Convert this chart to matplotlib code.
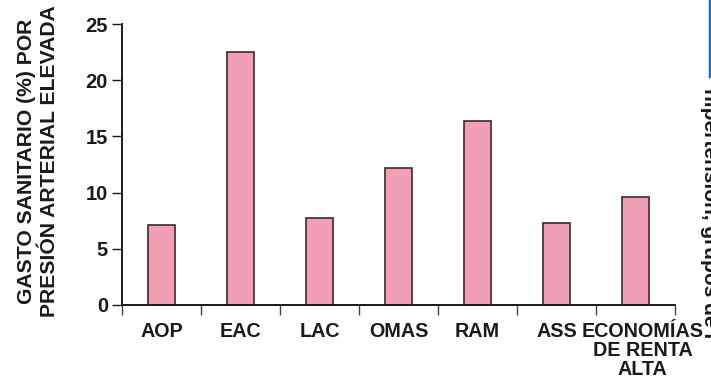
import matplotlib
matplotlib.use("Agg")
import matplotlib.pyplot as plt
import numpy as np
from matplotlib.ticker import FixedLocator, NullFormatter

# Health spending attributable to high blood pressure, by region
regions = ["AOP", "EAC", "LAC", "OMAS", "RAM", "ASS", "ECONOMÍAS\nDE RENTA\nALTA"]
spending_pct = [7.1, 22.5, 7.7, 12.2, 16.4, 7.3, 9.6]
y_ticks = [0, 5, 10, 15, 20, 25]

plt.rcParams["font.family"] = ["Liberation Sans", "DejaVu Sans"]
plt.rcParams["font.weight"] = "bold"

W, H = 711, 385
fig = plt.figure(figsize=(W / 100, H / 100), dpi=100)
fig.patch.set_facecolor("white")

ax = fig.add_axes([122 / W, 80 / H, 553 / W, 281 / H])
x = np.arange(len(regions))
ax.bar(x, spending_pct, width=0.35, color="#f09fb4", edgecolor="#3a2a2c",
       linewidth=1.2, zorder=2)

ax.set_xlim(-0.5, len(regions) - 0.5)
ax.set_ylim(0, 25)
ax.set_yticks(y_ticks)
ax.set_xticks(x)
# the long last label is drawn separately, nudged right to clear "ASS"
tick_text = regions[:-1] + [""]
ax.set_xticklabels(tick_text, fontsize=14.2, fontweight="bold")
ax.annotate(regions[-1], xy=(x[-1], 0), xycoords=("data", "axes fraction"),
            xytext=(5, -12), textcoords="offset points", ha="center", va="top",
            fontsize=14.2, fontweight="bold", color="#1a1a1a",
            multialignment="center", linespacing=1.0, annotation_clip=False)

ax.xaxis.set_minor_locator(FixedLocator(np.arange(-0.5, len(regions), 1.0)))
ax.xaxis.set_minor_formatter(NullFormatter())

ax.tick_params(axis="x", which="major", length=0, pad=12, colors="#1a1a1a")
ax.tick_params(axis="x", which="minor", length=7, width=1.0, direction="out",
               color="#444444")
ax.tick_params(axis="y", which="major", length=7, width=1.0, direction="out",
               pad=3, labelsize=14.5, colors="#1a1a1a")
for lbl in ax.get_yticklabels():
    lbl.set_fontweight("bold")

for side in ("top", "right"):
    ax.spines[side].set_visible(False)
for side in ("left", "bottom"):
    ax.spines[side].set_linewidth(1.4)
    ax.spines[side].set_color("#1a1a1a")

fig.text(38 / W, 0.5805, "GASTO SANITARIO (%) POR\nPRESIÓN ARTERIAL ELEVADA",
         rotation=90, ha="center", va="center", multialignment="center",
         fontsize=15.2, fontweight="bold", color="#1a1a1a", linespacing=1.3)

# Page margin: blue rule and running text of the adjoining column
fig.add_artist(plt.Line2D([709.5 / W, 709.5 / W], [1.0, 1 - 76 / H],
                          color="#1a6fc0", linewidth=2.5))
fig.text(700 / W, 1 - 88 / H, "hipertensión, grupos de i", rotation=-90,
         ha="left", va="top", fontsize=15, fontweight="bold", color="#1a1a1a")

fig.savefig("out.png", dpi=100)
